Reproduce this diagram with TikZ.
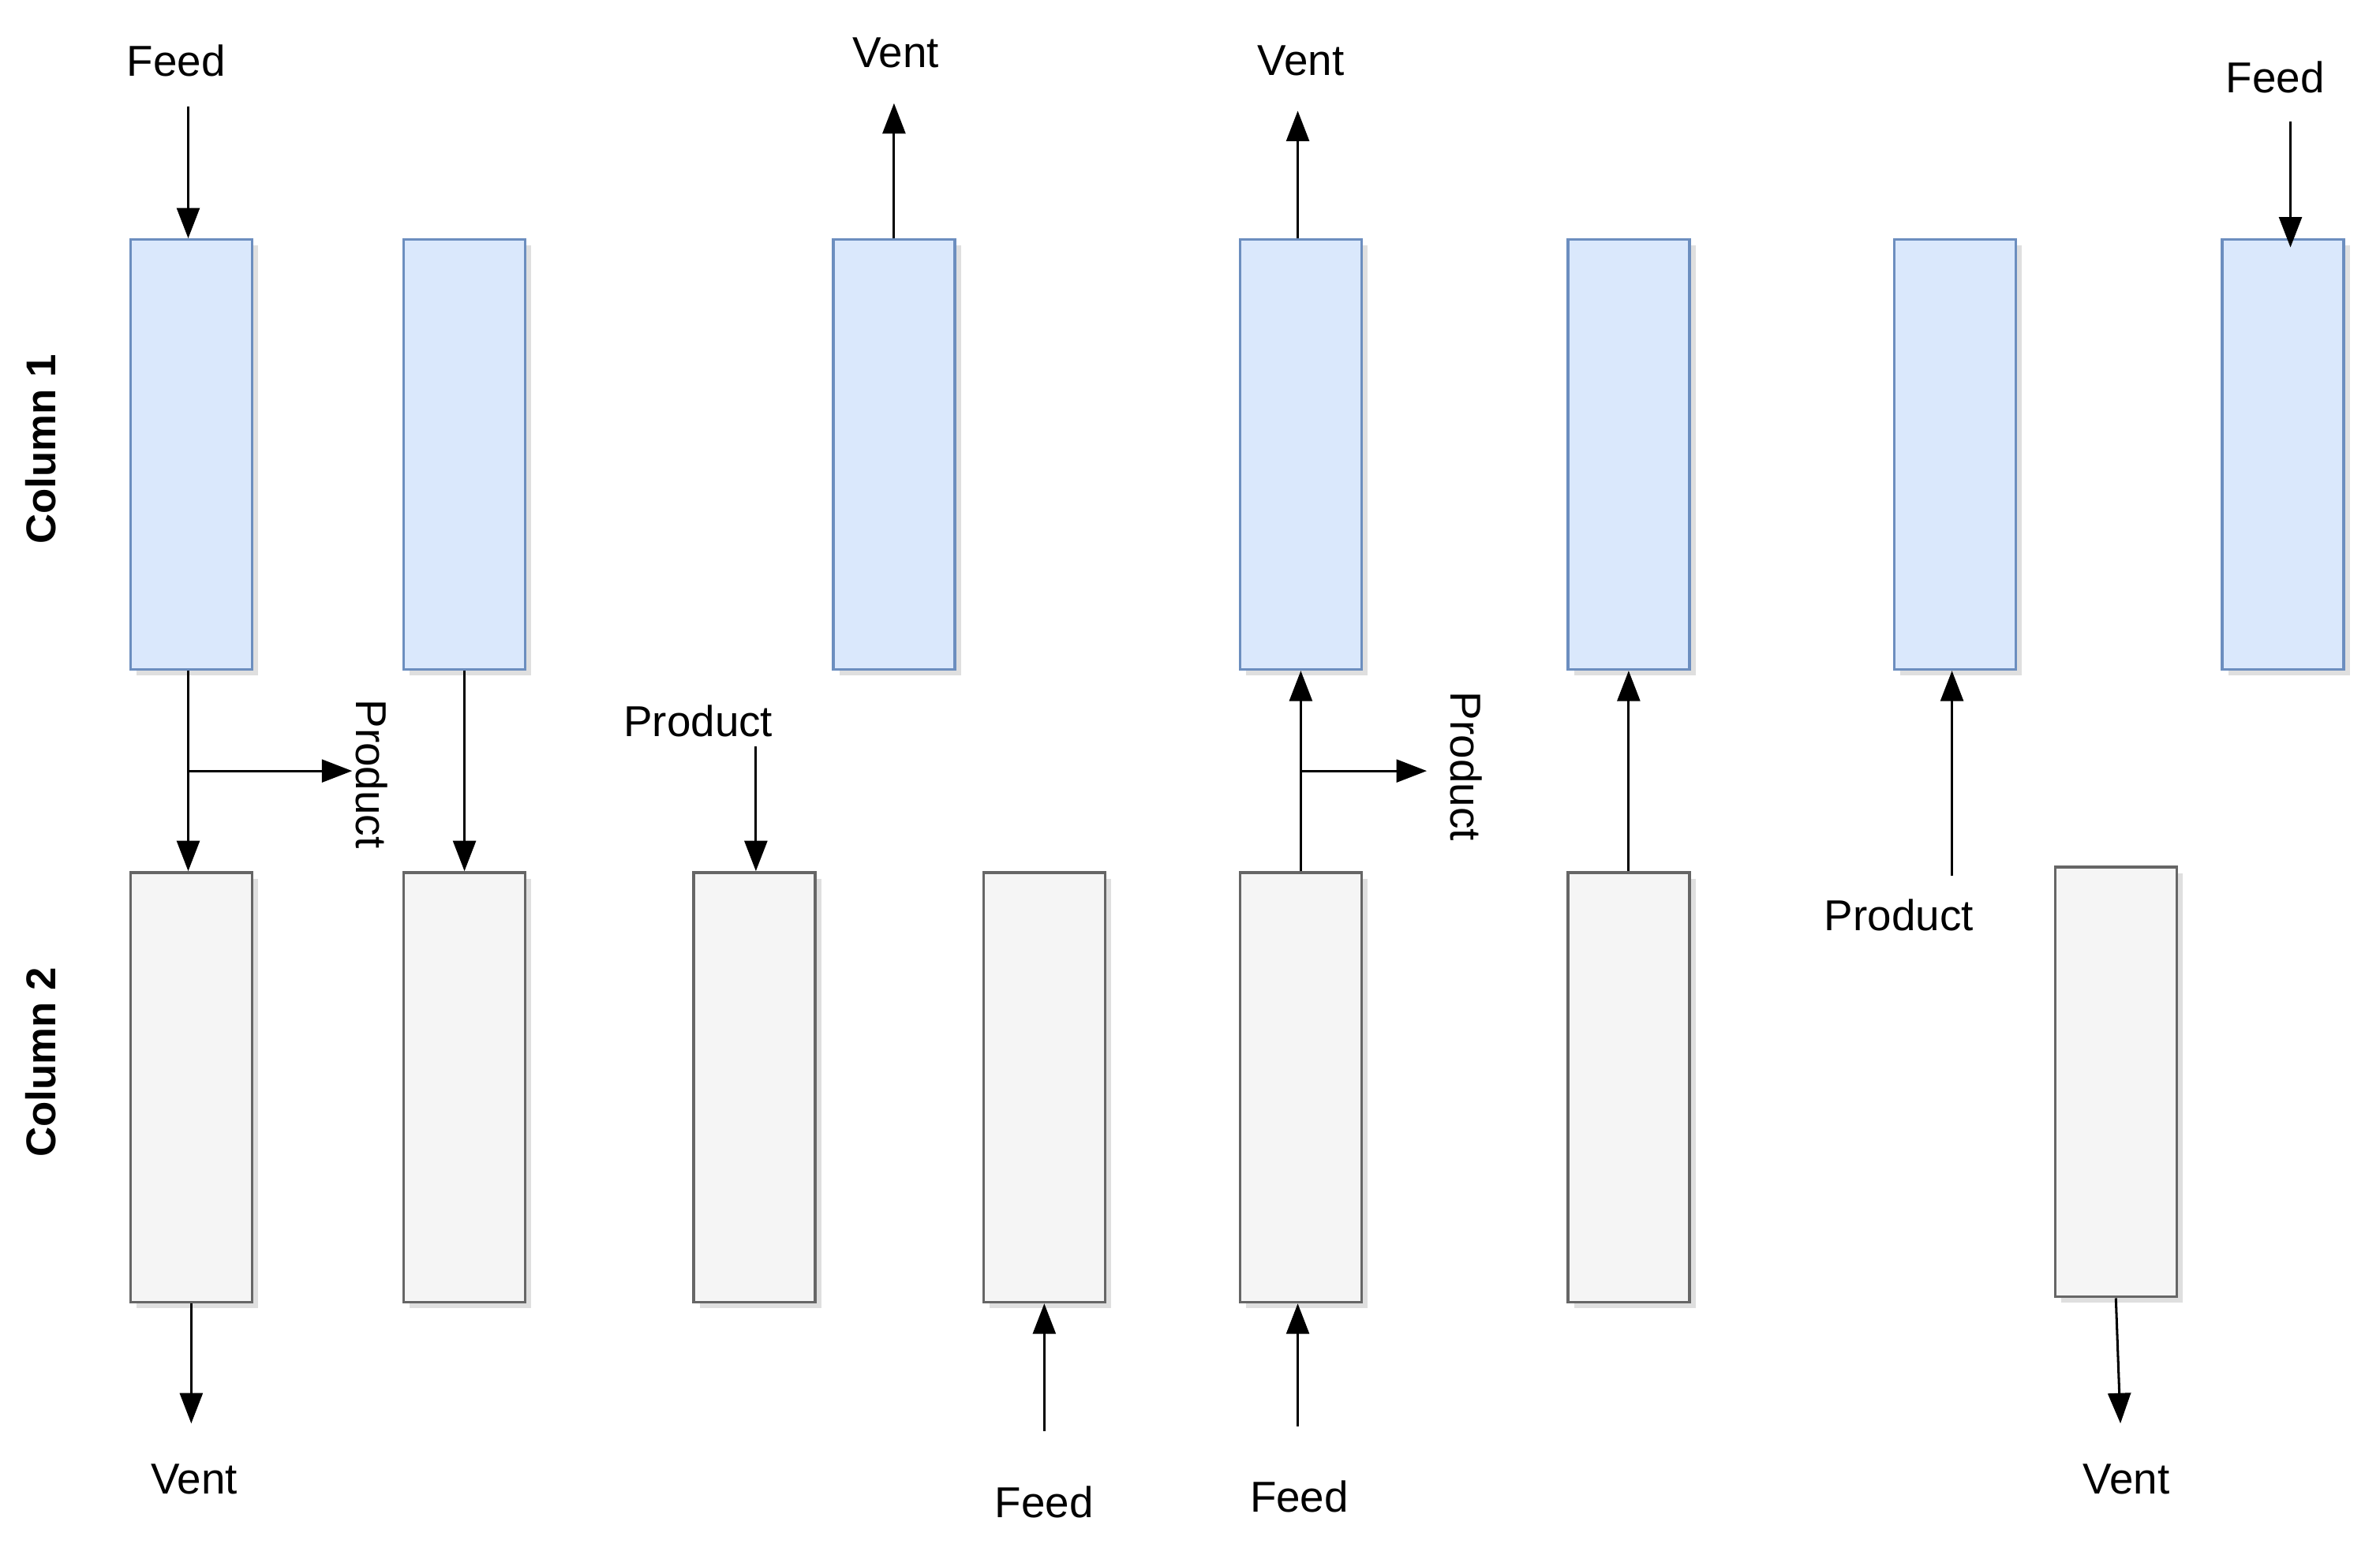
\documentclass[tikz,border=0pt]{standalone}
\usepackage{fontspec}
\setmainfont{Liberation Sans}
\usetikzlibrary{arrows.meta, shadows}
\definecolor{bluefill}{HTML}{DAE8FC}
\definecolor{bluedraw}{HTML}{6C8EBF}
\definecolor{grayfill}{HTML}{F5F5F5}
\definecolor{graydraw}{HTML}{666666}
\tikzstyle{col1} = [rectangle, minimum width=0.8cm, minimum height=2.83cm, draw=bluedraw, fill=bluefill, line width=0.5pt, drop shadow={shadow xshift=0.04cm, shadow yshift=-0.04cm, opacity=0.25}]
\tikzstyle{col2} = [rectangle, minimum width=0.8cm, minimum height=2.83cm, draw=graydraw, fill=grayfill, line width=0.5pt, drop shadow={shadow xshift=0.04cm, shadow yshift=-0.04cm, opacity=0.25}]
\tikzstyle{lbl} = [font=\fontsize{8.1}{9.5}\selectfont, inner sep=0pt]
\tikzstyle{arrow} = [line width=0.45pt, -{Triangle[length=0.2cm, width=0.15cm]}]
\begin{document}
\begin{tikzpicture}[x=0.01cm, y=-0.01cm]
\useasboundingbox (0,0) rectangle (1568,1017);

% column labels
\node (c1) [lbl, font=\fontsize{7.8}{9}\selectfont\bfseries, rotate=90] at (27,296) {Column 1};
\node (c2) [lbl, font=\fontsize{7.8}{9}\selectfont\bfseries, rotate=90] at (27,700) {Column 2};

% column 1 boxes
\node (t1) [col1] at (126,299.5) {};
\node (t2) [col1] at (306,299.5) {};
\node (t3) [col1] at (589,299.5) {};
\node (t4) [col1] at (857,299.5) {};
\node (t5) [col1] at (1073,299.5) {};
\node (t6) [col1] at (1288,299.5) {};
\node (t7) [col1] at (1504,299.5) {};

% column 2 boxes
\node (b1) [col2] at (126,716.5) {};
\node (b2) [col2] at (306,716.5) {};
\node (b3) [col2] at (497,716.5) {};
\node (b4) [col2] at (688,716.5) {};
\node (b5) [col2] at (857,716.5) {};
\node (b6) [col2] at (1073,716.5) {};
\node (b7) [col2] at (1394,713) {};

% texts
\node (feed1) [lbl] at (116,40) {Feed};
\node (vent1) [lbl] at (128,975) {Vent};
\node (prod1) [lbl, rotate=-90] at (245,510) {Product};
\node (vent3) [lbl] at (590,35) {Vent};
\node (prod3) [lbl] at (460,475) {Product};
\node (feed4) [lbl] at (688,990) {Feed};
\node (vent5) [lbl] at (857,40) {Vent};
\node (prod5) [lbl, rotate=-90] at (966,505) {Product};
\node (feed5) [lbl] at (856,986) {Feed};
\node (prod6) [lbl] at (1251,603) {Product};
\node (feed7) [lbl] at (1499,51) {Feed};
\node (vent7) [lbl] at (1401,975) {Vent};

% free ends
\coordinate (f1) at (124,70);
\coordinate (s1) at (124,508);
\coordinate (p1) at (232,508);
\coordinate (v1) at (126,938);
\coordinate (v3) at (589,68);
\coordinate (p3) at (498,492);
\coordinate (f4) at (688,943);
\coordinate (v5) at (855,73);
\coordinate (s5) at (857,508);
\coordinate (p5) at (940,508);
\coordinate (f5) at (855,940);
\coordinate (p6) at (1286,577);
\coordinate (f7) at (1509,80);
\coordinate (e7) at (1509,163);
\coordinate (v7) at (1397,938);

% connectors
\draw [arrow] (f1) -- (t1.north -| f1);
\draw [arrow] (t1.south -| f1) -- (b1.north -| f1);
\draw [arrow] (s1) -- (p1);
\draw [arrow] (b1.south) -- (v1);
\draw [arrow] (t2.south) -- (b2.north);
\draw [arrow] (t3.north) -- (v3);
\draw [arrow] (p3) -- (b3.north -| p3);
\draw [arrow] (f4) -- (b4.south);
\draw [arrow] (t4.north -| v5) -- (v5);
\draw [arrow] (b5.north) -- (t4.south);
\draw [arrow] (s5) -- (p5);
\draw [arrow] (f5) -- (b5.south -| f5);
\draw [arrow] (b6.north) -- (t5.south);
\draw [arrow] (p6) -- (t6.south -| p6);
\draw [arrow] (f7) -- (e7);
\draw [arrow] (b7.south) -- (v7);

\end{tikzpicture}
\end{document}
